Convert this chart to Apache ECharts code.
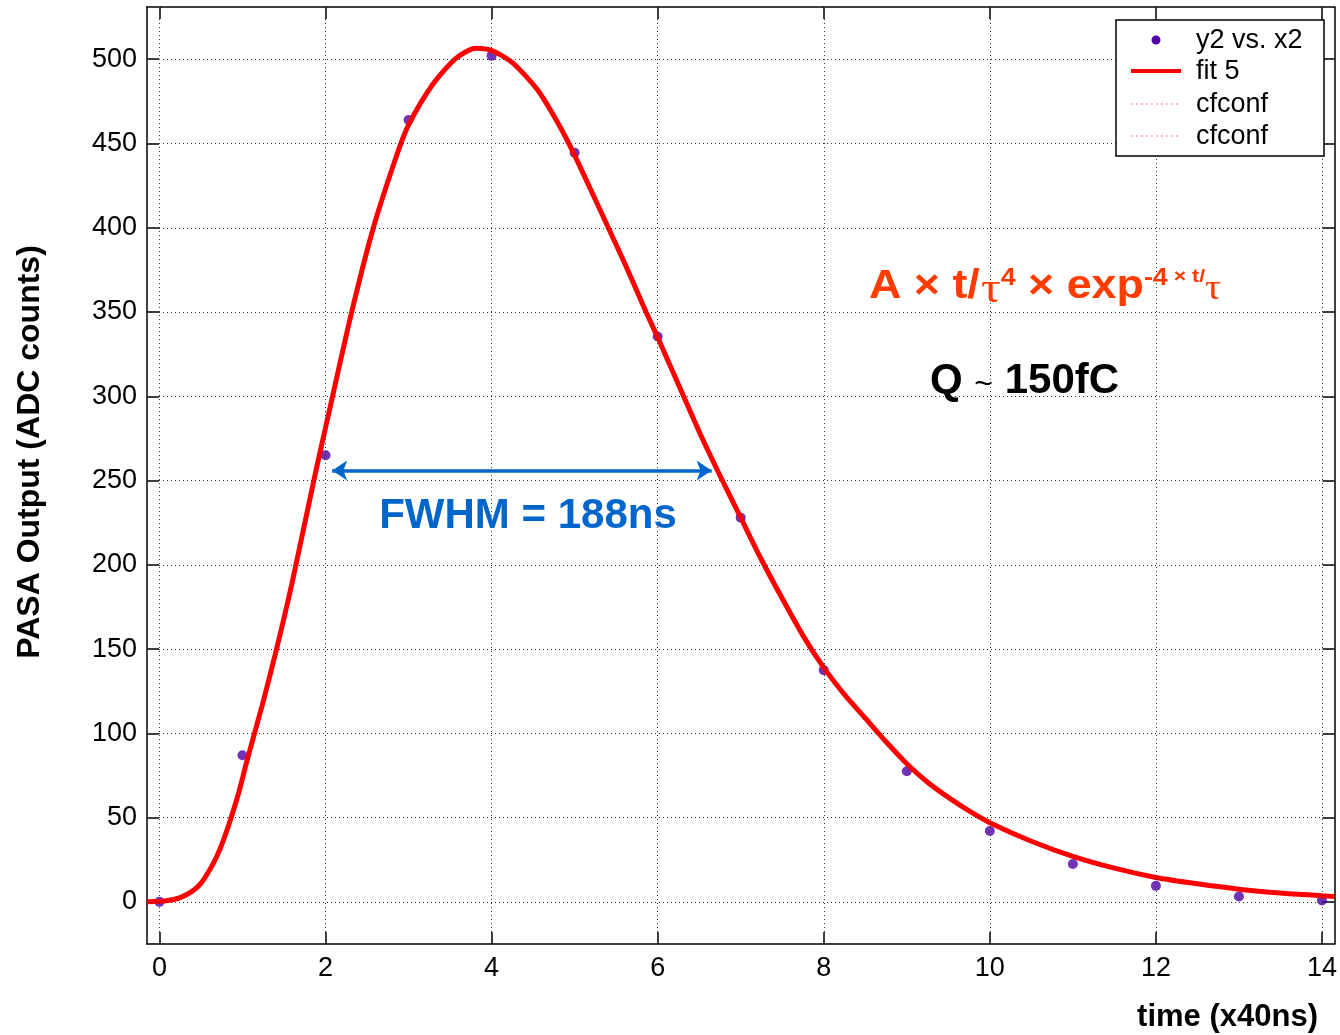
<!DOCTYPE html>
<html>
<head>
<meta charset="utf-8">
<script src="https://cdn.jsdelivr.net/npm/echarts@6/dist/echarts.min.js"></script>
<style>
  html, body { margin: 0; padding: 0; background: #fff; }
  #main { width: 1340px; height: 1035px; }
</style>
</head>
<body>
<div id="main"></div>
<script>
// measured points (y2 vs. x2)
var pointX = [0, 1, 2, 3, 4, 5, 6, 7, 8, 9, 10, 11, 12, 13, 14];
var pointY = [0, 87, 265, 464, 502, 444.5, 335.5, 228, 137.5, 77.5, 42, 22.5, 9.5, 3.2, 0.8];

// fit 5 curve
var fitX = [-0.15, 0, 0.1, 0.25, 0.4, 0.5, 0.65, 0.75, 0.85, 0.95, 1.05, 1.25, 1.41, 1.6, 1.885, 2.03,
    2.31, 2.57, 2.85, 3.0, 3.29, 3.57, 3.81, 4.01, 4.25, 4.55, 4.8, 5.0, 5.34, 5.62, 5.86, 6.0,
    6.25, 6.5, 6.75, 7.0, 7.25, 7.5, 7.75, 8.0, 8.25, 8.5, 8.75, 9.0, 9.25, 9.5, 9.75, 10.0,
    10.5, 11.0, 11.5, 12.0, 12.5, 13.0, 13.5, 14.0, 14.15];
var fitY = [0, 0.3, 0.8, 2.5, 6.5, 11, 23, 34, 48, 64, 83, 119, 150, 190, 256, 288,
    349, 399, 442, 461, 485, 500.5, 506.5, 505, 498, 482, 462, 443, 407, 377, 350, 335,
    307, 279, 253, 228, 203, 180, 158, 139, 123, 109, 95, 82, 71, 62, 54, 47,
    36, 27, 20, 14.5, 10.7, 7.5, 5.2, 3.6, 3.2];

// tick labels
var xTicks = [0, 2, 4, 6, 8, 10, 12, 14];
var yTicks = [0, 50, 100, 150, 200, 250, 300, 350, 400, 450, 500];

// FWHM arrow ends
var fwhmX = [2.08, 6.65];
var fwhmY = 256;

var FONT = 'Liberation Sans, Arial, sans-serif';
var SERIF = 'Liberation Serif, serif';

function pairs(xs, ys) {
    var out = [];
    for (var i = 0; i < xs.length; i++) {
        out.push([xs[i], ys[i]]);
    }
    return out;
}

// dotted grid lines, drawn as markLines
var gridLines = [];
for (var i = 0; i < xTicks.length; i++) gridLines.push({xAxis: xTicks[i]});
for (var j = 0; j < yTicks.length; j++) gridLines.push({yAxis: yTicks[j]});

var axisLineStyle = {color: '#000', width: 1.5};

function xAxisOf(pos, labels) {
    return {
        type: 'value', position: pos, min: -0.15, max: 14.15,
        axisLine: {show: true, onZero: false, lineStyle: axisLineStyle},
        axisTick: {show: true, inside: true, length: 12, customValues: xTicks, lineStyle: axisLineStyle},
        axisLabel: {show: labels, customValues: xTicks, margin: 11, color: '#000', fontSize: 27, fontFamily: FONT},
        splitLine: {show: false}
    };
}

function yAxisOf(pos, labels) {
    return {
        type: 'value', position: pos, min: -25, max: 531,
        axisLine: {show: true, onZero: false, lineStyle: axisLineStyle},
        axisTick: {show: true, inside: true, length: 12, customValues: yTicks, lineStyle: axisLineStyle},
        axisLabel: {show: labels, customValues: yTicks, margin: 10, color: '#000', fontSize: 27, fontFamily: FONT},
        splitLine: {show: false}
    };
}

var chart = echarts.init(document.getElementById('main'));
var option = {
    animation: false,
    backgroundColor: '#fff',
    grid: {left: 147, right: 2, top: 7, bottom: 91},
    xAxis: [xAxisOf('bottom', true), xAxisOf('top', false)],
    yAxis: [yAxisOf('left', true), yAxisOf('right', false)],
    series: [
        {
            type: 'line', data: [], silent: true, z: 1,
            markLine: {
                silent: true, symbol: 'none', label: {show: false},
                lineStyle: {color: '#333', width: 1, type: [1, 3]},
                emphasis: {disabled: true},
                data: gridLines
            }
        },
        {
            name: 'y2 vs. x2', type: 'scatter', z: 2,
            symbol: 'circle', symbolSize: 10,
            itemStyle: {color: '#5000A8'},
            data: pairs(pointX, pointY)
        },
        {
            name: 'fit 5', type: 'line', z: 3, smooth: 0.25,
            showSymbol: false, symbol: 'none',
            lineStyle: {color: '#FF0000', width: 5},
            data: pairs(fitX, fitY)
        },
        {
            type: 'line', data: [], silent: true, z: 4,
            markLine: {
                silent: true, symbol: ['arrow', 'arrow'], symbolSize: [15, 15], label: {show: false},
                lineStyle: {color: '#0066CC', width: 3.5, type: 'solid'},
                emphasis: {disabled: true},
                data: [[{coord: [fwhmX[0], fwhmY]}, {coord: [fwhmX[1], fwhmY]}]]
            }
        }
    ],
    graphic: [
        // axis names
        {type: 'text', x: 30, y: 452, rotation: Math.PI / 2, z: 10,
            style: {text: 'PASA Output (ADC counts)', font: 'bold 32px ' + FONT, fill: '#000', align: 'center', verticalAlign: 'middle'}},
        {type: 'text', x: 1318, y: 1017, z: 10,
            style: {text: 'time (x40ns)', font: 'bold 31px ' + FONT, fill: '#000', align: 'right', verticalAlign: 'middle'}},
        // legend box
        {type: 'rect', shape: {x: 1116, y: 20, width: 208, height: 136}, z: 20,
            style: {fill: '#fff', stroke: '#000', lineWidth: 1.5}},
        {type: 'circle', shape: {cx: 1156, cy: 40, r: 4.5}, z: 21, style: {fill: '#5000A8'}},
        {type: 'line', shape: {x1: 1131, y1: 71, x2: 1181, y2: 71}, z: 21, style: {stroke: '#FF0000', lineWidth: 4}},
        {type: 'line', shape: {x1: 1131, y1: 104, x2: 1181, y2: 104}, z: 21, style: {stroke: '#FF5050', lineWidth: 1.2, lineDash: [1.5, 3.5]}},
        {type: 'line', shape: {x1: 1131, y1: 136, x2: 1181, y2: 136}, z: 21, style: {stroke: '#FF5050', lineWidth: 1.2, lineDash: [1.5, 3.5]}},
        {type: 'text', x: 1196, y: 41, z: 21, style: {text: 'y2 vs. x2', font: '27px ' + FONT, fill: '#000', verticalAlign: 'middle'}},
        {type: 'text', x: 1196, y: 72, z: 21, style: {text: 'fit 5', font: '27px ' + FONT, fill: '#000', verticalAlign: 'middle'}},
        {type: 'text', x: 1196, y: 105, z: 21, style: {text: 'cfconf', font: '27px ' + FONT, fill: '#000', verticalAlign: 'middle'}},
        {type: 'text', x: 1196, y: 137, z: 21, style: {text: 'cfconf', font: '27px ' + FONT, fill: '#000', verticalAlign: 'middle'}},
        // formula (the original text is stretched sideways)
        {type: 'text', x: 869, y: 287, scaleX: 1.12, z: 10,
            style: {
                text: '{m|A × t/}{g|τ}{s|4}{m| × exp}{s|-4}{ss| × t/}{g2|τ}',
                verticalAlign: 'middle',
                rich: {
                    m: {font: 'bold 40px ' + FONT, fill: '#FF3C00'},
                    g: {font: '44px ' + SERIF, fill: '#FF3C00', padding: [6, 0, 0, 1]},
                    g2: {font: '36px ' + SERIF, fill: '#FF3C00', padding: [6, 0, 0, 0]},
                    s: {font: 'bold 24px ' + FONT, fill: '#FF3C00', padding: [0, 0, 18, 0]},
                    ss: {font: 'bold 19px ' + FONT, fill: '#FF3C00', padding: [0, 0, 20, 0]}
                }
            }},
        {type: 'text', x: 930, y: 381, z: 10,
            style: {
                text: '{b|Q }{t|~}{b| 150fC}',
                verticalAlign: 'middle',
                rich: {
                    b: {font: 'bold 42px ' + FONT, fill: '#000'},
                    t: {font: '32px ' + FONT, fill: '#000', padding: [8, 0, 0, 0]}
                }
            }},
        {type: 'text', x: 528, y: 516, z: 10,
            style: {text: 'FWHM = 188ns', font: 'bold 42px ' + FONT, fill: '#0066CC', align: 'center', verticalAlign: 'middle'}}
    ]
};
chart.setOption(option);
</script>
</body>
</html>
